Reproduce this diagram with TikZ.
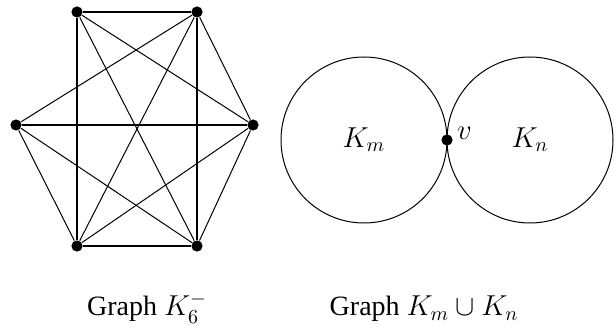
\documentclass[tikz,border=0pt]{standalone}
\usepackage{amsmath}
\usepackage{fontspec}
\setmainfont{Liberation Serif}
\usetikzlibrary{positioning}

\begin{document}
\begin{tikzpicture}[
  x=0.5pt, y=-0.5pt,
  vertex/.style={circle, fill=black, inner sep=0pt, minimum size=5.6pt},
  edge/.style={line width=0.5pt},
  heavy/.style={line width=1.2pt},
  blob/.style={draw, circle, line width=0.5pt, inner sep=0pt, minimum size=83pt, font=\fontsize{14}{16}\selectfont},
  caption/.style={anchor=base, font=\fontsize{14}{16}\selectfont}
]
\useasboundingbox (0,0) rectangle (616,331);
% the graph K_6 minus one edge
\node[vertex] (a) at (77,12) {};
\node[vertex] (b) at (197,12) {};
\node[vertex] (c) at (16,125) {};
\node[vertex] (d) at (253,125) {};
\node[vertex] (e) at (77,246) {};
\node[vertex] (f) at (197,246) {};
\draw[heavy] (a) -- (b);
\draw[heavy] (e) -- (f);
\draw[heavy] (a) -- (e);
\draw[heavy] (b) -- (f);
\draw[heavy] (c) -- (d);
\foreach \u/\w in {a/d, a/f, b/c, b/d, b/e, c/e, c/f, d/e, d/f}
  \draw[edge] (\u) -- (\w);
% two complete graphs glued at v
\node[blob] (km) at (364,140) {$K_m$};
\node[blob] (kn) at (530,140) {$K_n$};
\node[vertex] (v) at (447,140) {};
\node[right=-1.5pt of v, yshift=3.5pt, font=\fontsize{14}{16}\selectfont] (vlab) {$v$};
% captions
\node[caption] (cap1) at (147,316) {Graph $K_6^-$};
\node[caption] (cap2) at (424,316) {Graph $K_m\cup K_n$};
\end{tikzpicture}
\end{document}
